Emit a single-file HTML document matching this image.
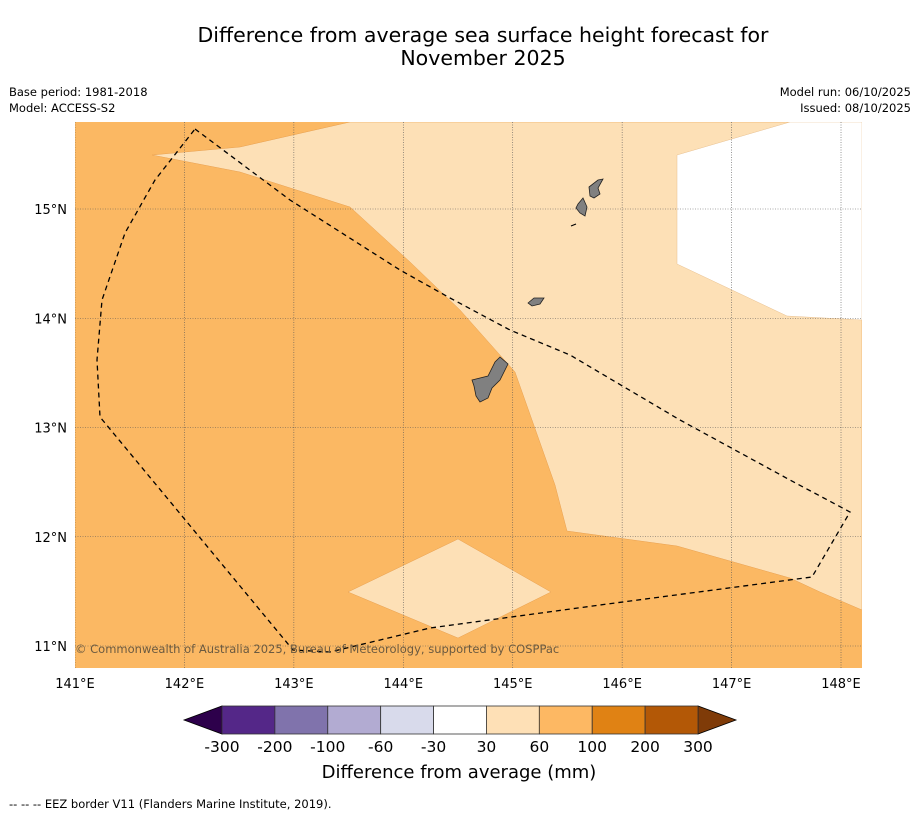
<!DOCTYPE html>
<html><head><meta charset="utf-8"><style>
body{margin:0;background:#fff;width:919px;height:816px;overflow:hidden;font-family:"DejaVu Sans","Liberation Sans",sans-serif;}
svg{display:block}
</style></head><body>
<svg id="chart" width="919" height="816" viewBox="0 0 919 816" font-family="DejaVu Sans, Liberation Sans, sans-serif">
<text x="483" y="42" font-size="20.5" text-anchor="middle">Difference from average sea surface height forecast for</text>
<text x="483" y="65" font-size="20.5" text-anchor="middle">November 2025</text>
<text x="9" y="96" font-size="11.5">Base period: 1981-2018</text>
<text x="9" y="112" font-size="11.5">Model: ACCESS-S2</text>
<text x="911" y="96" font-size="11.5" text-anchor="end">Model run: 06/10/2025</text>
<text x="911" y="112" font-size="11.5" text-anchor="end">Issued: 08/10/2025</text>
<defs><clipPath id="mapclip"><rect x="75" y="122" width="787" height="546"/></clipPath></defs>
<g id="map" clip-path="url(#mapclip)">
<rect x="75" y="122" width="787" height="546" fill="#fbb863"/>
<polygon points="152,155 240,172 350,207 410,262 460,310 515,372 555,485 567,531 677,546 790,578 820,592 862,610 862,122 350,122 240,147" fill="#fde0b6" stroke="#e8a050" stroke-width="0.5"/>
<polygon points="790,122 862,122 862,320 787,316 677,264 677,155" fill="#ffffff" stroke="#e8c090" stroke-width="0.5"/>
<polygon points="348,592 458,539 551,592 458,638" fill="#fde0b6" stroke="#e8a050" stroke-width="0.5"/>
<g id="grid"></g>
<polygon points="472,380 488,376 495,362 500,357 508,364 500,380 492,388 488,398 480,402 476,396 474,386" fill="#808080" stroke="#222" stroke-width="0.8"/>
<polygon points="528,303 534,298 544,298 540,304 532,306" fill="#808080" stroke="#222" stroke-width="0.8"/>
<polygon points="578,204 583,198 587,207 585,216 580,213 576,208" fill="#808080" stroke="#222" stroke-width="0.8"/>
<polygon points="589,187 598,180 603,179 598,188 600,194 594,198 590,196" fill="#808080" stroke="#222" stroke-width="0.8"/>
<line x1="571" y1="226" x2="576" y2="224" stroke="#000" stroke-width="1.2"/>
<polyline points="195,129 290,200 400,270 450,298 510,330 570,355 680,420 790,480 850,512 812,577 600,605 430,628 330,652 293,650 100,417 97,360 102,300 125,233 155,180 195,129" fill="none" stroke="#000" stroke-width="1.3" stroke-dasharray="5,4"/>
<text x="75" y="653" font-size="11.5" fill="#6b5a40">© Commonwealth of Australia 2025, Bureau of Meteorology, supported by COSPPac</text>
</g>
<g id="axes"></g>
<g id="colorbar"></g>
<text x="459" y="778" font-size="18" text-anchor="middle">Difference from average (mm)</text>
<text x="9" y="808" font-size="11.5">--  --  -- EEZ border V11 (Flanders Marine Institute, 2019).</text>
</svg>
<script>
const lonTicks=[141,142,143,144,145,146,147,148];
const latTicks=[11,12,13,14,15];
const cbLevels=["-300","-200","-100","-60","-30","30","60","100","200","300"];
const cbColors=["#542788","#8073ac","#b2abd2","#d8daeb","#ffffff","#fee0b6","#fdb863","#e08214","#b35806"];
const cbExtColors=["#2d004b","#7f3b08"];
const NS="http://www.w3.org/2000/svg";
function xLon(v){return 75+(v-141)*109.43;}
function yLat(v){return 646-(v-11)*109.25;}
function mk(t,a,p){const e=document.createElementNS(NS,t);for(const k in a)e.setAttribute(k,a[k]);p.appendChild(e);return e;}
const grid=document.getElementById('grid'),axes=document.getElementById('axes');
lonTicks.forEach(v=>{
 const l=mk('line',{x1:xLon(v),x2:xLon(v),y1:122,y2:668,stroke:'#555','stroke-width':0.6,'stroke-dasharray':'1,1.5'},grid);
 
 
 const t=mk('text',{x:xLon(v),y:688,'font-size':13,'text-anchor':'middle'},axes);t.textContent=v+'°E';
 
 
});
latTicks.forEach(v=>{
 const l=mk('line',{x1:75,x2:862,y1:yLat(v),y2:yLat(v),stroke:'#555','stroke-width':0.6,'stroke-dasharray':'1,1.5'},grid);
 
 
 const t=mk('text',{x:67,y:yLat(v)+5,'font-size':13,'text-anchor':'end'},axes);t.textContent=v+'°N';
 
 
});
const cb=document.getElementById('colorbar');
const cx0=222,cx1=698,cy0=706,cy1=734,n=cbColors.length,w=(cx1-cx0)/n;
const e1=mk('polygon',{points:`${cx0},${cy0} ${cx0},${cy1} 184,${(cy0+cy1)/2}`,fill:cbExtColors[0],stroke:'#000','stroke-width':0.8},cb);


const e2=mk('polygon',{points:`${cx1},${cy0} ${cx1},${cy1} 736,${(cy0+cy1)/2}`,fill:cbExtColors[1],stroke:'#000','stroke-width':0.8},cb);


cbColors.forEach((c,i)=>{
 const r=mk('rect',{x:cx0+i*w,y:cy0,width:w,height:cy1-cy0,fill:c,stroke:'#333','stroke-width':0.8},cb);
 
 
});
cbLevels.forEach((s,i)=>{
 const t=mk('text',{x:cx0+i*w,y:752,'font-size':15.5,'text-anchor':'middle'},cb);t.textContent=s;
 
 
});
</script>
</body></html>
